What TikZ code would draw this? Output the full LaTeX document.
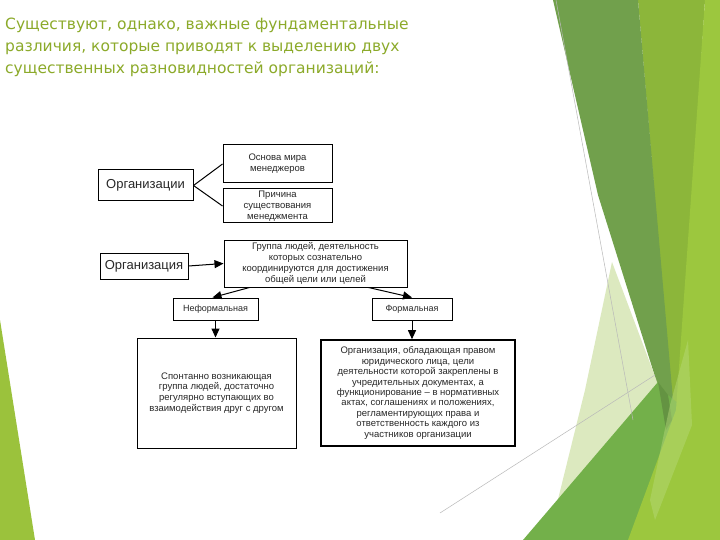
\documentclass[tikz,border=0pt]{standalone}
\usepackage{fontspec}
\setmainfont{Liberation Sans}
\newfontfamily\titlefont{DejaVu Sans}
\usetikzlibrary{arrows.meta}
\definecolor{titlegreen}{RGB}{140,170,42}
\definecolor{darkband}{RGB}{113,160,76}
\definecolor{midband}{RGB}{140,182,58}
\definecolor{limeband}{RGB}{156,199,62}
\definecolor{paleband}{RGB}{214,230,180}
\definecolor{medgreen}{RGB}{115,176,74}
\definecolor{lightband}{RGB}{184,218,124}
\definecolor{lefttri}{RGB}{155,194,60}
\definecolor{boxtext}{RGB}{40,40,40}
\tikzset{
  box/.style={draw, line width=1pt, inner sep=0pt, align=center, text=boxtext,
    font=\fontsize{9.5}{10.8}\selectfont},
  arr/.style={-{Triangle[length=9pt,width=8pt]}, line width=1pt},
  link/.style={line width=1pt},
  titletext/.style={anchor=base west, inner sep=0pt, text=titlegreen,
    font=\titlefont\fontsize{15.5}{20}\selectfont},
  thinline/.style={draw=gray!55, line width=0.5pt}
}
\begin{document}
\begin{tikzpicture}[x=1pt,y=-1pt]
\fill[white] (0,0) rectangle (720,540);
\useasboundingbox (0,0) rectangle (720,540);
% decoration
\fill[lefttri] (0,320) -- (35,540) -- (0,540) -- cycle;
\fill[midband] (638,0) -- (705,0) -- (680,400) -- (676,420) -- (672,400) -- cycle;
\fill[darkband] (553,0) -- (638,0) -- (673,400) -- (668,418) -- (598,195) -- cycle;
\fill[paleband, opacity=0.85] (612,262) -- (662,395) -- (600,540) -- (548,540) -- (585,390) -- cycle;
\fill[medgreen] (523,540) -- (658,382) -- (668,395) -- (680,405) -- (662,540) -- cycle;
\fill[darkband!80!black, opacity=0.6] (658,382) -- (668,395) -- (672,420) -- (666,430) -- cycle;
\fill[limeband] (705,0) -- (720,0) -- (720,540) -- (628,540) -- (676,410) -- cycle;
\fill[lightband, opacity=0.45] (670,405) -- (688,340) -- (692,425) -- (655,520) -- (650,500) -- cycle;
\draw[thinline] (556,0) -- (633,420);
\draw[thinline] (440,513) -- (655,375);
% title
\node[titletext] (t1) at (5,30) {Существуют, однако, важные фундаментальные};
\node[titletext] (t2) at (5,52) {различия, которые приводят к выделению двух};
\node[titletext] (t3) at (5,74) {существенных разновидностей организаций:};
% diagram
\node[box, minimum width=95pt, minimum height=31pt, font=\fontsize{13}{15}\selectfont] (A) at (145.5,185.5) {Организации};
\node[box, minimum width=109pt, minimum height=38pt] (B) at (277.5,164) {Основа мира\\менеджеров};
\node[box, minimum width=109pt, minimum height=34pt] (C) at (277.5,206) {Причина\\существования\\менеджмента};
\draw[link] (A.east) -- (B.west);
\draw[link] (A.east) -- (C.west);
\node[box, minimum width=88pt, minimum height=26pt, font=\fontsize{13}{15}\selectfont] (D) at (144,266) {Организация};
\node[box, minimum width=183pt, minimum height=47pt] (E) at (315.5,263.5) {Группа людей, деятельность\\которых сознательно\\координируются для достижения\\общей цели или целей};
\draw[arr] (D.east) -- (E.west);
\node[box, minimum width=85pt, minimum height=22pt, font=\fontsize{9}{10}\selectfont] (F) at (215.5,309) {Неформальная};
\node[box, minimum width=80pt, minimum height=22pt, font=\fontsize{9}{10}\selectfont] (G) at (412,309) {Формальная};
\draw[arr] ([xshift=-66pt]E.south) -- ([xshift=-3pt]F.north);
\draw[arr] ([xshift=53pt]E.south) -- (G.north);
\node[box, minimum width=159pt, minimum height=110pt] (H) at (216.5,393) {Спонтанно возникающая\\группа людей, достаточно\\регулярно вступающих во\\взаимодействия друг с другом};
\node[box, line width=1.6pt, minimum width=194pt, minimum height=106pt, font=\fontsize{9.5}{10.4}\selectfont] (I) at (418,393) {Организация, обладающая правом\\юридического лица, цели\\деятельности которой закреплены в\\учредительных документах, а\\функционирование -- в нормативных\\актах, соглашениях и положениях,\\регламентирующих права и\\ответственность каждого из\\участников организации};
\draw[arr] (F.south) -- (F.south |- H.north);
\draw[arr] (G.south) -- (G.south |- I.north);
\end{tikzpicture}
\end{document}
